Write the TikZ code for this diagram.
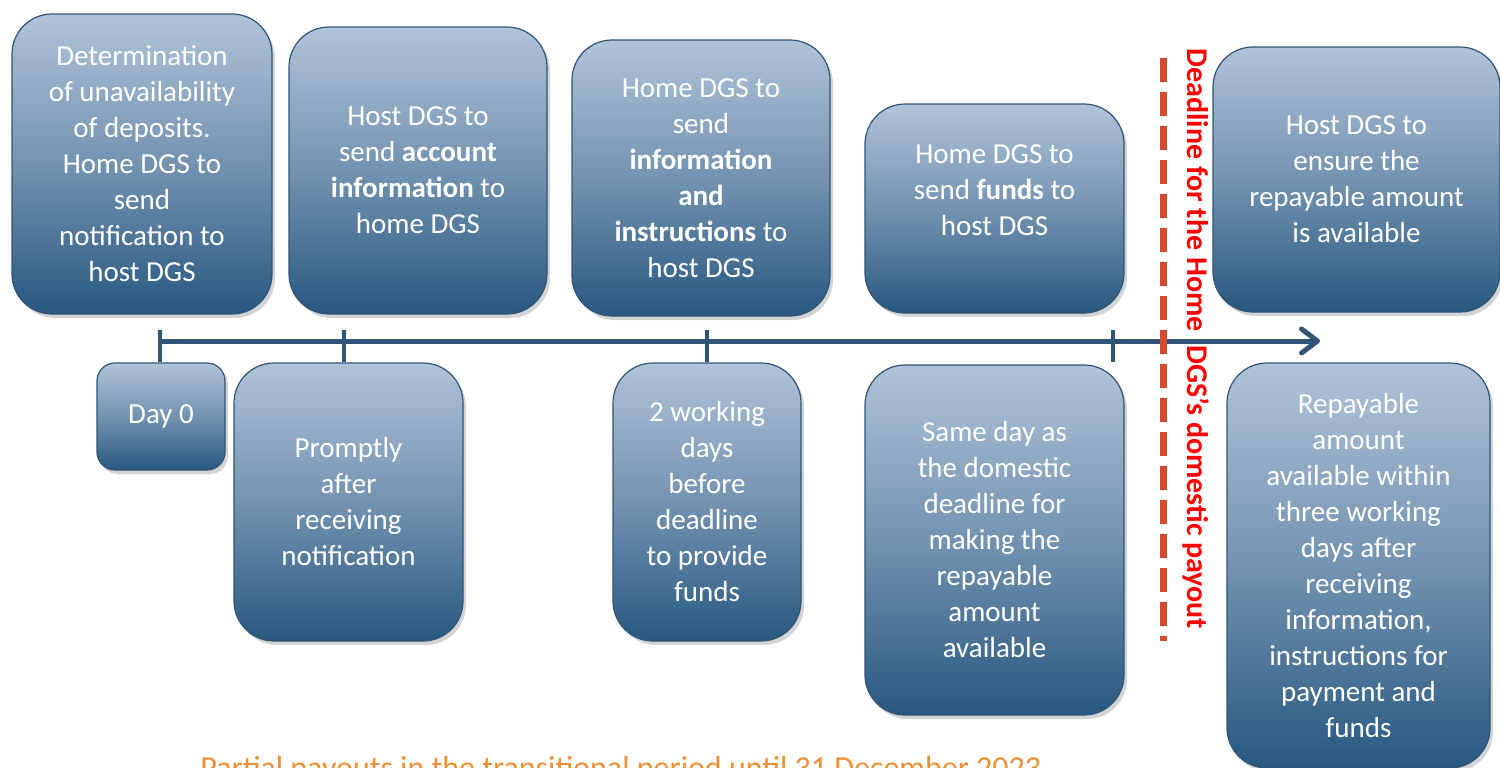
\documentclass[tikz,border=0pt]{standalone}
\usepackage{fontspec}
\setmainfont{Carlito}
\usetikzlibrary{arrows.meta,shadows}

\definecolor{boxtop}{RGB}{176,195,216}
\definecolor{boxbot}{RGB}{40,88,128}
\definecolor{boxline}{RGB}{47,84,117}
\definecolor{deadred}{RGB}{214,75,43}
\definecolor{noteorange}{RGB}{237,143,52}

\begin{document}
\begin{tikzpicture}[x=0.5pt, y=-0.5pt,
stage node/.style={draw=boxline, line width=0.6pt, rounded corners=20pt, top color=boxtop, bottom color=boxbot, middle color=boxtop!55!boxbot, drop shadow={opacity=0.35, shadow xshift=1.5pt, shadow yshift=-2pt}, text=white, align=center, inner sep=0pt, font=\fontsize{14.5}{18}\selectfont},
day node/.style={stage node, rounded corners=9pt},
axis line/.style={draw=boxline, line width=2.5pt},
tick line/.style={draw=boxline, line width=2pt}]
\useasboundingbox (0,0) rectangle (1500,767);
\clip (0,0) rectangle (1500,767);

% above the time line
\node[stage node, minimum width=130pt, minimum height=150pt] (n0) at (142,164) {Determination\\ of unavailability\\ of deposits.\\ Home DGS to\\ send\\ notification to\\ host DGS};

\node[stage node, minimum width=129pt, minimum height=143.5pt] (n1) at (418,170.5) {Host DGS to\\ send \textbf{account}\\ \textbf{information} to\\ home DGS};

\node[stage node, minimum width=129pt, minimum height=138pt] (n2) at (701,178) {Home DGS to\\ send\\ \textbf{information}\\ \textbf{and}\\ \textbf{instructions} to\\ host DGS};

\node[stage node, minimum width=129.5pt, minimum height=104.5pt] (n3) at (994.5,208.5) {Home DGS to\\ send \textbf{funds} to\\ host DGS\\ \mbox{}};

\node[stage node, minimum width=143.5pt, minimum height=132.5pt] (n4) at (1356.5,179.5) {Host DGS to\\ ensure the\\ repayable amount\\ is available};

% below the time line
\node[day node, minimum width=64pt, minimum height=53.5pt] (n5) at (161,416.5) {Day 0};

\node[stage node, minimum width=114.5pt, minimum height=139pt] (n6) at (348.5,502) {Promptly\\ after\\ receiving\\ notification};

\node[stage node, minimum width=94pt, minimum height=139pt] (n7) at (707,502) {2 working\\ days\\ before\\ deadline\\ to provide\\ funds};

\node[stage node, minimum width=129.5pt, minimum height=175pt] (n8) at (994.5,540) {Same day as\\ the domestic\\ deadline for\\ making the\\ repayable\\ amount\\ available};

\node[stage node, minimum width=131.5pt, minimum height=202.5pt] (n9) at (1358.5,565.5) {Repayable\\ amount\\ available within\\ three working\\ days after\\ receiving\\ information,\\ instructions for\\ payment and\\ funds};

% time line
\coordinate (t0) at (160,341);
\coordinate (t1) at (344,341);
\coordinate (t2) at (707,341);
\coordinate (t3) at (1113,341);
\coordinate (tend) at (1320,341);

\draw[axis line, -{Straight Barb[length=8pt, width=12pt, round]}] (t0) -- (tend);
\foreach \t in {t0,t1,t2,t3}
  \draw[tick line] (\t) ++(0,-11) -- ++(0,32);

% deadline
\coordinate (d0) at (1163,58);
\coordinate (d1) at (1163,641);
\draw[deadred, line width=3.5pt, dash pattern=on 12pt off 5pt] (d0) -- (d1);
\node[rotate=-90, text=red, font=\fontsize{15}{18}\selectfont\bfseries] (dl) at (1196,339) {Deadline for the Home\ \ DGS’s domestic payout};

% note
\node[anchor=base west, text=noteorange, inner sep=0pt, font=\fontsize{16}{19}\selectfont] (note) at (200,778) {Partial payouts in the transitional period until 31 December 2023};

\end{tikzpicture}
\end{document}
